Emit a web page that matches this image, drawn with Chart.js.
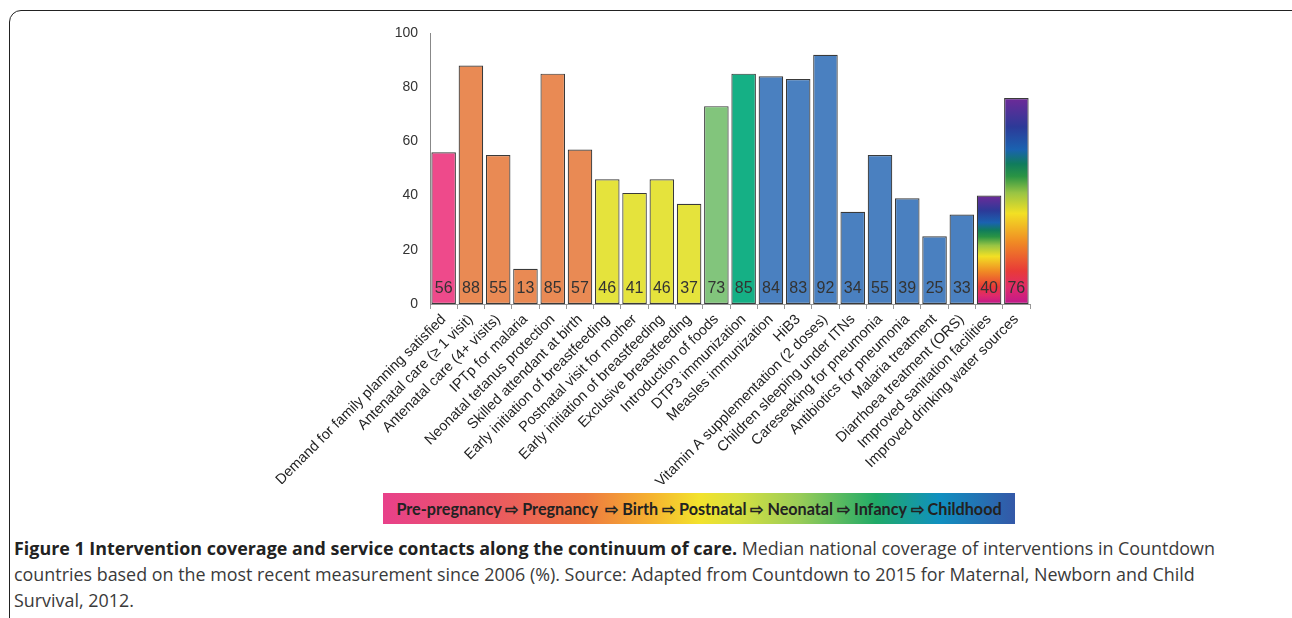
<!DOCTYPE html>
<html>
<head>
<meta charset="utf-8">
<script src="https://cdn.jsdelivr.net/npm/chart.js@4.4.1/dist/chart.umd.min.js"></script>
<style>
  html, body { margin: 0; padding: 0; background: #fff; width: 1292px; height: 618px; overflow: hidden; position: relative; }
  #frame { position: absolute; left: 9px; top: 10px; width: 1300px; height: 700px; border: 1.6px solid #222; border-radius: 12px; box-sizing: border-box; }
  #wrap { position: absolute; left: 0; top: 0; width: 1292px; height: 490px; }
  #legendbar { position: absolute; left: 383px; top: 493px; width: 632px; height: 31px;
    background: linear-gradient(to right, #e8408a 0%, #ea5a60 18%, #ee7a40 32%, #f5b030 42%, #f3e22c 50%, #d8e040 56%, #98cc58 66%, #20aa68 78%, #1090c0 88%, #3458a8 100%);
    font-family: Lato, "Open Sans", sans-serif; font-weight: bold; font-size: 16.2px; color: #222;
    display: flex; align-items: center; justify-content: center; white-space: pre; }
  #caption { position: absolute; left: 14px; top: 535px; width: 1270px; font-family: "Open Sans", sans-serif; font-size: 17.9px; line-height: 26px; color: #3a3a3a; }
  #caption div { white-space: nowrap; }
  #caption b { color: #222; }
</style>
</head>
<body>
<div id="frame"></div>
<div id="wrap"><canvas id="c"></canvas></div>
<div id="legendbar">Pre-pregnancy ⇨ Pregnancy  ⇨ Birth ⇨ Postnatal ⇨ Neonatal ⇨ Infancy ⇨ Childhood</div>
<div id="caption"><div><b>Figure 1 Intervention coverage and service contacts along the continuum of care.</b> Median national coverage of interventions in Countdown</div><div>countries based on the most recent measurement since 2006 (%). Source: Adapted from Countdown to 2015 for Maternal, Newborn and Child</div><div>Survival, 2012.</div></div>
<script>
const categories = [
  "Demand for family planning satisfied",
  "Antenatal care (\u2265 1 visit)",
  "Antenatal care (4+ visits)",
  "IPTp for malaria",
  "Neonatal tetanus protection",
  "Skilled attendant at birth",
  "Early initiation of breastfeeding",
  "Postnatal visit for mother",
  "Early initiation of breastfeeding",
  "Exclusive breastfeeding",
  "Introduction of foods",
  "DTP3 immunization",
  "Measles immunization",
  "HiB3",
  "Vitamin A supplementation (2 doses)",
  "Children sleeping under ITNs",
  "Careseeking for pneumonia",
  "Antibiotics for pneumonia",
  "Malaria treatment",
  "Diarrhoea treatment (ORS)",
  "Improved sanitation facilities",
  "Improved drinking water sources"
];
const coverage = [56, 88, 55, 13, 85, 57, 46, 41, 46, 37, 73, 85, 84, 83, 92, 34, 55, 39, 25, 33, 40, 76];
const stages = ["pre", "preg", "preg", "preg", "preg", "preg", "birth", "birth", "birth", "birth", "postnatal", "neonatal",
  "child", "child", "child", "child", "child", "child", "child", "child", "env", "env"];
const yTicks = [0, 20, 40, 60, 80, 100];

const stageColors = { pre: "#ee4a8b", preg: "#e98a54", birth: "#e5e33c", postnatal: "#82c57c", neonatal: "#15b085", child: "#4a80c0" };
const rainbow = [
  [0.00, "#c0188c"], [0.08, "#e02a6a"], [0.16, "#e83a38"], [0.30, "#f08a24"], [0.44, "#f2e024"],
  [0.54, "#98c444"], [0.62, "#2a9444"], [0.68, "#107c5c"], [0.75, "#1a62b0"], [0.86, "#2c3a98"], [1.00, "#6e2a98"]
];

function barColor(ctx) {
  const st = stages[ctx.dataIndex];
  if (st !== "env") return stageColors[st];
  const chart = ctx.chart;
  const ys = chart.scales && chart.scales.y;
  if (!chart.chartArea || !ys) return "#6e2a98";
  const top = ys.getPixelForValue(coverage[ctx.dataIndex]);
  const bot = ys.getPixelForValue(0);
  const g = chart.ctx.createLinearGradient(0, bot, 0, top);
  rainbow.forEach(([p, c]) => g.addColorStop(p, c));
  return g;
}

const valueLabels = {
  id: "valueLabels",
  afterDatasetsDraw(chart) {
    const c = chart.ctx;
    const meta = chart.getDatasetMeta(0);
    c.save();
    c.font = "16px 'Liberation Sans', Arial, sans-serif";
    c.fillStyle = "#333";
    c.textAlign = "center";
    c.textBaseline = "middle";
    meta.data.forEach((bar, i) => {
      c.fillText(String(coverage[i]), bar.x, bar.base - 15);
    });
    c.restore();
  }
};

new Chart(document.getElementById("c"), {
  type: "bar",
  data: {
    labels: categories,
    datasets: [{
      data: coverage,
      backgroundColor: barColor,
      borderColor: "#3a3a3a",
      borderWidth: 1.2,
      borderSkipped: false,
      barPercentage: 0.9,
      categoryPercentage: 1.0
    }]
  },
  options: {
    responsive: true,
    maintainAspectRatio: false,
    animation: false,
    devicePixelRatio: 1,
    layout: { padding: { left: 390, right: 262, top: 33, bottom: 6 } },
    plugins: { legend: { display: false }, tooltip: { enabled: false } },
    scales: {
      x: {
        afterFit: (s) => { s.height = 180; },
        grid: { display: true, offset: true, drawOnChartArea: false, drawTicks: true, tickLength: 5, color: "#999" },
        border: { display: true, color: "#999", width: 1 },
        ticks: {
          autoSkip: false, maxRotation: 45, minRotation: 45, padding: 2,
          color: "#222", font: { family: "'Liberation Sans', Arial, sans-serif", size: 14.5 }
        }
      },
      y: {
        min: 0, max: 100,
        afterFit: (s) => { s.width = 40; },
        afterBuildTicks: (s) => { s.ticks = yTicks.map(v => ({ value: v })); },
        grid: { display: false },
        border: { display: true, color: "#888", width: 1 },
        ticks: {
          padding: 4, color: "#333",
          font: { family: "'Liberation Sans', Arial, sans-serif", size: 14 }
        }
      }
    }
  },
  plugins: [valueLabels]
});
</script>
</body>
</html>
